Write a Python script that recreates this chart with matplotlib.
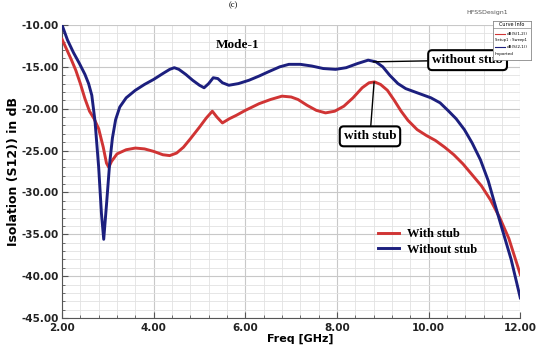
import numpy as np
import matplotlib.pyplot as plt
from matplotlib.ticker import MultipleLocator, FormatStrFormatter

# isolation curves, read in GHz / dB
freq_with = [2.0, 2.1, 2.2, 2.3, 2.4, 2.5, 2.6, 2.7, 2.8, 2.9, 2.97, 3.02, 3.08,
             3.2, 3.4, 3.6, 3.8, 4.0, 4.2, 4.35, 4.5, 4.65, 4.8, 5.0, 5.15, 5.28,
             5.38, 5.5, 5.65, 5.8, 6.0, 6.3, 6.55, 6.8, 7.0, 7.15, 7.35, 7.55,
             7.75, 7.95, 8.15, 8.35, 8.55, 8.7, 8.82, 8.95, 9.1, 9.25, 9.4, 9.55,
             9.75, 9.95, 10.15, 10.35, 10.55, 10.75, 10.95, 11.15, 11.35, 11.55,
             11.75, 12.0]
s12_with = [-11.7, -12.9, -14.1, -15.4, -17.0, -18.8, -20.3, -21.2, -22.4, -24.6,
            -26.5, -27.0, -26.3, -25.4, -24.9, -24.7, -24.8, -25.1, -25.5, -25.6,
            -25.3, -24.6, -23.6, -22.2, -21.1, -20.3, -21.0, -21.7, -21.2, -20.8,
            -20.2, -19.4, -18.9, -18.5, -18.6, -18.9, -19.6, -20.2, -20.5, -20.3,
            -19.7, -18.7, -17.5, -16.9, -16.8, -17.1, -17.8, -19.0, -20.3, -21.4,
            -22.5, -23.2, -23.8, -24.6, -25.5, -26.6, -27.9, -29.2, -30.9, -33.0,
            -35.5, -39.8]

freq_without = [2.0, 2.12, 2.25, 2.38, 2.5, 2.58, 2.65, 2.72, 2.8, 2.86, 2.91, 2.97,
                3.04, 3.1, 3.17, 3.26, 3.4, 3.6, 3.8, 4.0, 4.2, 4.35, 4.45, 4.55,
                4.7, 4.85, 5.0, 5.1, 5.2, 5.3, 5.4, 5.5, 5.64, 5.85, 6.08, 6.3, 6.5,
                6.75, 6.95, 7.2, 7.45, 7.7, 7.97, 8.2, 8.45, 8.68, 8.85, 9.0, 9.15,
                9.33, 9.5, 9.7, 9.9, 10.05, 10.25, 10.42, 10.6, 10.78, 10.95, 11.13,
                11.3, 11.44, 11.6, 11.8, 12.0]
s12_without = [-10.0, -11.8, -13.3, -14.6, -15.9, -17.0, -18.4, -21.5, -27.0, -32.5,
               -35.6, -31.5, -26.5, -23.5, -21.3, -19.8, -18.7, -17.8, -17.1, -16.5,
               -15.8, -15.3, -15.1, -15.3, -15.9, -16.6, -17.2, -17.5, -17.0, -16.3,
               -16.4, -16.9, -17.2, -17.0, -16.6, -16.1, -15.6, -15.0, -14.7, -14.7,
               -14.9, -15.2, -15.3, -15.1, -14.6, -14.2, -14.4, -15.0, -16.0, -17.0,
               -17.6, -18.0, -18.4, -18.7, -19.3, -20.2, -21.2, -22.5, -24.1, -26.1,
               -28.6, -31.3, -34.3, -38.0, -42.6]

red = '#d03434'
navy = '#1c1f7e'
serif = 'Liberation Serif'

fig = plt.figure(figsize=(5.36, 3.54), dpi=100)
ax = fig.add_axes([0.1157, 0.1017, 0.855, 0.8277])

ax.plot(freq_with, s12_with, color=red, lw=2.1, label='With stub', zorder=3,
        solid_joinstyle='round')
ax.plot(freq_without, s12_without, color=navy, lw=2.1, label='Without stub', zorder=3,
        solid_joinstyle='round')

ax.set_xlim(2, 12)
ax.set_ylim(-45, -10)
ax.xaxis.set_major_locator(MultipleLocator(2))
ax.xaxis.set_minor_locator(MultipleLocator(0.4))
ax.yaxis.set_major_locator(MultipleLocator(5))
ax.yaxis.set_minor_locator(MultipleLocator(1))
ax.xaxis.set_major_formatter(FormatStrFormatter('%.2f'))
ax.yaxis.set_major_formatter(FormatStrFormatter('%.2f'))

ax.grid(which='major', color='#c8c8c8', lw=0.8)
ax.grid(which='minor', color='#e2e2e2', lw=0.6)
ax.set_axisbelow(True)
for s in ['top', 'right']:
    ax.spines[s].set_visible(False)
for s in ['left', 'bottom']:
    ax.spines[s].set_color('#555555')
ax.tick_params(which='both', direction='in', colors='#555555',
               labelcolor='#222222', labelsize=7.5)
ax.tick_params(which='major', length=4)
ax.tick_params(which='minor', length=2)
ax.tick_params(axis='y', pad=2)
for lbl in ax.get_xticklabels() + ax.get_yticklabels():
    lbl.set_fontweight('bold')

ax.set_xlabel('Freq [GHz]', fontsize=8, fontweight='bold', labelpad=1)
ax.xaxis.set_label_coords(0.52, -0.055)
ax.set_ylabel('Isolation (S12)) in dB', fontsize=9, fontweight='bold', labelpad=1)

ax.text(5.82, -12.4, 'Mode-1', family=serif, fontweight='bold', fontsize=9.5,
        ha='center', va='center')

box = dict(boxstyle='round,pad=0.3', fc='white', ec='black', lw=1.5)
ax.annotate('without stub', xy=(8.79, -14.4), xytext=(10.85, -14.2),
            family=serif, fontweight='bold', fontsize=9.5, ha='center', va='center',
            bbox=box, arrowprops=dict(arrowstyle='-', color='black', lw=1,
                                      shrinkA=0, shrinkB=0), zorder=5)
ax.annotate('with stub', xy=(8.81, -16.8), xytext=(8.72, -23.3),
            family=serif, fontweight='bold', fontsize=9.5, ha='center', va='center',
            bbox=box, arrowprops=dict(arrowstyle='-', color='black', lw=1,
                                      shrinkA=0, shrinkB=0), zorder=5)

ax.legend(loc='center left', bbox_to_anchor=(0.665, 0.26), frameon=False,
          prop=dict(family=serif, weight='bold', size=9), handlelength=1.7,
          handletextpad=0.6, labelspacing=0.3)

# HFSS curve info block in the top-right corner
fig.text(0.908, 0.965, 'HFSSDesign1', fontsize=4.5, color='#555555',
         ha='center', va='center')
info = fig.add_axes([0.92, 0.83, 0.071, 0.11])
info.set_xticks([])
info.set_yticks([])
for s in info.spines.values():
    s.set_color('#888888')
    s.set_linewidth(0.6)
info.set_xlim(0, 1)
info.set_ylim(0, 1)
info.axhline(0.83, color='#888888', lw=0.5)
info.text(0.5, 0.92, 'Curve Info', fontsize=3.5, ha='center', va='center')
info.plot([0.05, 0.3], [0.68, 0.68], color=red, lw=0.8)
info.text(0.35, 0.68, 'dB(S(1,2))', fontsize=3, va='center')
info.text(0.05, 0.52, 'Setup1 : Sweep1', fontsize=2.7, va='center')
info.plot([0.05, 0.3], [0.33, 0.33], color=navy, lw=0.8)
info.text(0.35, 0.33, 'dB(S(2,1))', fontsize=3, va='center')
info.text(0.05, 0.17, 'Imported', fontsize=3, va='center')

fig.text(0.435, 0.998, '(c)', fontsize=6, ha='center', va='top', family=serif)

fig.savefig('out.png', dpi=100)
